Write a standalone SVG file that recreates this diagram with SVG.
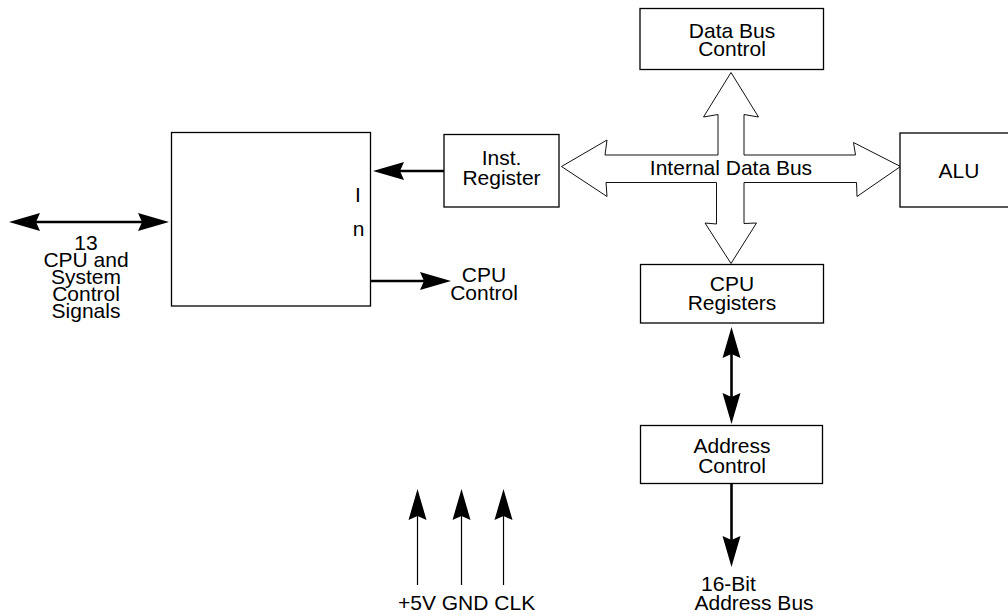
<svg xmlns="http://www.w3.org/2000/svg" width="1008" height="614" viewBox="0 0 1008 614">
<style>
  .box{fill:#fff;stroke:#000;stroke-width:1.3}
  .t{font-family:"Liberation Sans",Arial,Helvetica,sans-serif;font-size:21px;fill:#000;text-anchor:middle}
  .tl{font-family:"Liberation Sans",Arial,Helvetica,sans-serif;font-size:21px;fill:#000;text-anchor:start}
  .thick{stroke:#000;stroke-width:2.6;fill:none}
  .thin{stroke:#000;stroke-width:1.2;fill:none}
  .bus{fill:#fff;stroke:#111;stroke-width:1;stroke-linejoin:miter}
</style>
<defs>
  <marker id="ah" markerUnits="userSpaceOnUse" markerWidth="34" markerHeight="22" viewBox="-25 -11 34 22" refX="0" refY="0" orient="auto-start-reverse">
    <path d="M8,0 L-23,-9 L-19,0 L-23,9 Z" fill="#000"/>
  </marker>
</defs>
<rect width="1008" height="614" fill="#fff"/>

<g id="connectors">
  <polygon id="internal-data-bus" class="bus" points="731,72.5 758.5,117 744,114.5 744,155 855.5,155 853.5,142.5 900.5,166.5 857,196.5 856.5,182.5 744,182.5 744,223.5 756.5,223 731,263.5 705,223 716.5,224 716.5,182.5 606,182.5 607,196.5 561.5,166.5 607,140 605,155 718,155 718,114.5 703.5,117"/>
  <line class="thick" x1="17" y1="222" x2="161" y2="222" marker-start="url(#ah)" marker-end="url(#ah)"/>
  <line class="thick" x1="444" y1="171" x2="381" y2="171" marker-end="url(#ah)"/>
  <line class="thick" x1="370" y1="281" x2="443" y2="281" marker-end="url(#ah)"/>
  <line class="thick" x1="731.5" y1="335" x2="731.5" y2="416" marker-start="url(#ah)" marker-end="url(#ah)"/>
  <line class="thick" x1="731.5" y1="484" x2="731.5" y2="559" marker-end="url(#ah)"/>
  <line class="thin" x1="417.5" y1="585" x2="417.5" y2="497" marker-end="url(#ah)"/>
  <line class="thin" x1="461.5" y1="585" x2="461.5" y2="497" marker-end="url(#ah)"/>
  <line class="thin" x1="503.5" y1="585" x2="503.5" y2="497" marker-end="url(#ah)"/>
</g>

<text class="t" x="731" y="175">Internal Data Bus</text>

<g id="data-bus-control">
  <rect class="box" x="640" y="8.5" width="183.5" height="61"/>
  <text class="t" x="732" y="37.5">Data Bus</text>
  <text class="t" x="732" y="56">Control</text>
</g>

<g id="inst-register">
  <rect class="box" x="444" y="134.5" width="115" height="72.5"/>
  <text class="t" x="501.5" y="165">Inst.</text>
  <text class="t" x="501.5" y="184.5">Register</text>
</g>

<g id="alu">
  <rect class="box" x="900" y="133" width="130" height="74"/>
  <text class="t" x="959" y="178">ALU</text>
</g>

<g id="cpu-registers">
  <rect class="box" x="640.5" y="264.5" width="183" height="58.5"/>
  <text class="t" x="732" y="290.5">CPU</text>
  <text class="t" x="732" y="310">Registers</text>
</g>

<g id="address-control">
  <rect class="box" x="640.5" y="425.5" width="182" height="58"/>
  <text class="t" x="732" y="453">Address</text>
  <text class="t" x="732" y="472.5">Control</text>
</g>

<g id="control-unit">
  <rect class="box" x="171.5" y="132.5" width="199" height="173.5"/>
  <text class="t" x="358" y="202">I</text>
  <text class="t" x="358.5" y="236">n</text>
</g>

<g id="label-signals">
  <text class="t" x="86" y="250">13</text>
  <text class="t" x="86" y="267">CPU and</text>
  <text class="t" x="86" y="284">System</text>
  <text class="t" x="86" y="301">Control</text>
  <text class="t" x="86" y="318">Signals</text>
</g>

<g id="label-cpu-control">
  <text class="t" x="484" y="282">CPU</text>
  <text class="t" x="484" y="300">Control</text>
</g>

<g id="label-power">
  <text class="tl" x="398" y="610">+5V GND CLK</text>
</g>

<g id="label-address-bus">
  <text class="tl" x="701" y="591">16-Bit</text>
  <text class="tl" x="694.5" y="609.5">Address Bus</text>
</g>
</svg>
